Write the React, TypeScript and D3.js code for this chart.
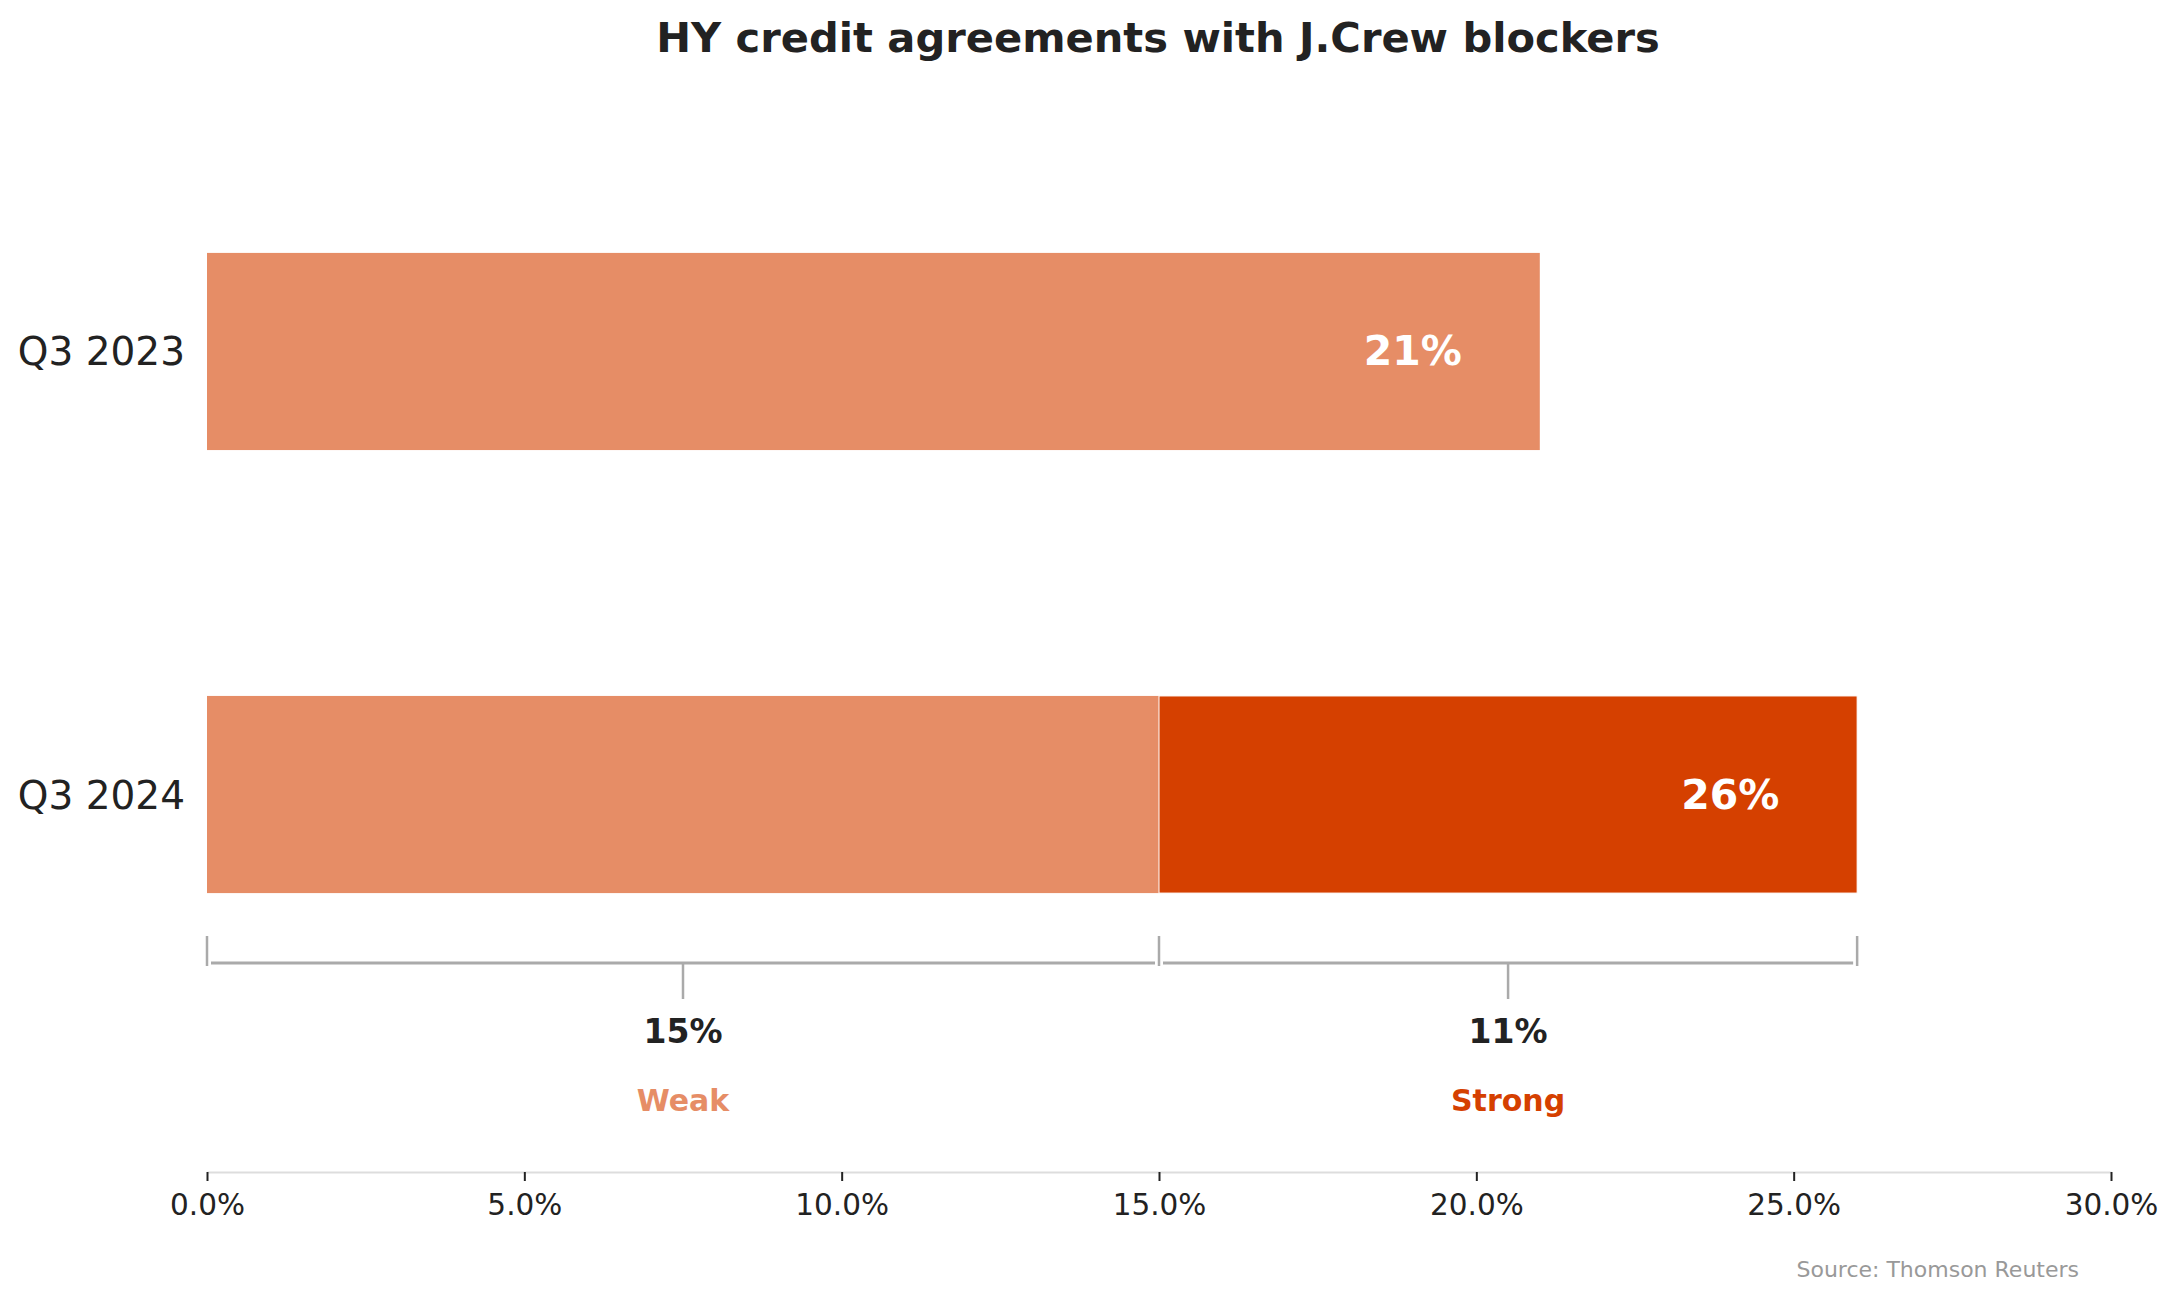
import * as d3 from "d3";
import { useEffect, useRef } from "react";

const categories = ["Q3 2023", "Q3 2024"];
const weakValues = [21, 15];
const strongValues = [0, 11];
const totalLabels = ["21%", "26%"];
const xTicks = [0, 5, 10, 15, 20, 25, 30];
const bracketLabels = ["15%", "11%"];
const bracketNames = ["Weak", "Strong"];

const WEAK = "#e68d66";
const STRONG = "#d54000";
const FONT = "DejaVu Sans, sans-serif";

export default function App() {
  const ref = useRef(null);
  const width = 2179;
  const height = 1301;

  useEffect(() => {
    document.body.style.margin = "0";
    draw();
  });

  function draw() {
    const svg = d3.select(ref.current);
    // clean the slate
    svg.selectAll("*").remove();
    svg.attr("width", width).attr("height", height).style("background", "#fff");

    const x = d3.scaleLinear().domain([0, 30]).range([207, 2111]);
    const y = d3
      .scaleBand()
      .domain(categories)
      .range([120, 1026])
      .paddingInner(0.555)
      .paddingOuter(0.3);

    // title
    svg
      .append("text")
      .attr("x", 1158)
      .attr("y", 52)
      .attr("text-anchor", "middle")
      .attr("font-family", FONT)
      .attr("font-weight", 700)
      .attr("font-size", 41.6)
      .attr("fill", "#222")
      .text("HY credit agreements with J.Crew blockers");

    // weak segments
    svg
      .append("g")
      .selectAll("rect")
      .data(categories)
      .enter()
      .append("rect")
      .attr("x", x(0))
      .attr("y", (d) => y(d))
      .attr("width", (d, i) => x(weakValues[i]) - x(0))
      .attr("height", y.bandwidth())
      .attr("fill", WEAK);

    // strong segments
    svg
      .append("g")
      .selectAll("rect")
      .data(categories.filter((d, i) => strongValues[i] > 0))
      .enter()
      .append("rect")
      .attr("x", (d) => x(weakValues[categories.indexOf(d)]))
      .attr("y", (d) => y(d))
      .attr("width", (d) => {
        const i = categories.indexOf(d);
        return x(weakValues[i] + strongValues[i]) - x(weakValues[i]);
      })
      .attr("height", y.bandwidth())
      .attr("fill", STRONG)
      .attr("stroke", "#fff")
      .attr("stroke-width", 1);

    // category labels
    svg
      .append("g")
      .selectAll("text")
      .data(categories)
      .enter()
      .append("text")
      .attr("x", x(0) - 22)
      .attr("y", (d) => y(d) + y.bandwidth() / 2 + 14)
      .attr("text-anchor", "end")
      .attr("font-family", FONT)
      .attr("font-size", 39)
      .attr("fill", "#222")
      .text((d) => d);

    // totals inside the bars
    svg
      .append("g")
      .selectAll("text")
      .data(categories)
      .enter()
      .append("text")
      .attr("x", (d, i) => x(weakValues[i] + strongValues[i] - 2))
      .attr("y", (d) => y(d) + y.bandwidth() / 2 + 14)
      .attr("text-anchor", "middle")
      .attr("font-family", FONT)
      .attr("font-weight", 700)
      .attr("font-size", 41)
      .attr("fill", "#fff")
      .text((d, i) => totalLabels[i]);

    // brackets under the Q3 2024 bar
    const last = categories.length - 1;
    const segs = [
      [0, weakValues[last]],
      [weakValues[last], weakValues[last] + strongValues[last]],
    ];
    const lineY = 963;
    const br = svg.append("g").attr("stroke", "#aaa").attr("fill", "none");
    segs.forEach((s) => {
      br.append("line")
        .attr("x1", x(s[0]) + 4)
        .attr("x2", x(s[1]) - 4)
        .attr("y1", lineY)
        .attr("y2", lineY)
        .attr("stroke-width", 3);
      br.append("line")
        .attr("x1", x((s[0] + s[1]) / 2))
        .attr("x2", x((s[0] + s[1]) / 2))
        .attr("y1", lineY)
        .attr("y2", lineY + 36)
        .attr("stroke-width", 2.5);
    });
    const ends = [0, weakValues[last], weakValues[last] + strongValues[last]];
    br.selectAll("line.end")
      .data(ends)
      .enter()
      .append("line")
      .attr("class", "end")
      .attr("x1", (d) => x(d))
      .attr("x2", (d) => x(d))
      .attr("y1", 936)
      .attr("y2", 966)
      .attr("stroke-width", 2.5);

    const labels = svg.append("g").attr("font-family", FONT).attr("font-weight", 700);
    segs.forEach((s, i) => {
      labels
        .append("text")
        .attr("x", x((s[0] + s[1]) / 2))
        .attr("y", 1043)
        .attr("text-anchor", "middle")
        .attr("font-size", 33)
        .attr("fill", "#222")
        .text(bracketLabels[i]);
      labels
        .append("text")
        .attr("x", x((s[0] + s[1]) / 2))
        .attr("y", 1111)
        .attr("text-anchor", "middle")
        .attr("font-size", 30)
        .attr("fill", i === 0 ? WEAK : STRONG)
        .text(bracketNames[i]);
    });

    // x axis
    const axis = svg
      .append("g")
      .attr("transform", "translate(0,1172)")
      .call(
        d3
          .axisBottom(x)
          .tickValues(xTicks)
          .tickFormat((d) => d3.format(".1f")(d) + "%")
          .tickSize(9)
          .tickSizeOuter(0)
          .tickPadding(13)
      );
    axis.select(".domain").attr("stroke", "#ddd").attr("stroke-width", 2);
    axis.selectAll(".tick line").attr("stroke", "#222").attr("stroke-width", 2);
    axis
      .selectAll(".tick text")
      .attr("font-family", FONT)
      .attr("font-size", 29.5)
      .attr("fill", "#222");

    // source note
    svg
      .append("text")
      .attr("x", 2079)
      .attr("y", 1277)
      .attr("text-anchor", "end")
      .attr("font-family", FONT)
      .attr("font-size", 22)
      .attr("fill", "#999")
      .text("Source: Thomson Reuters");
  }

  return <svg ref={ref} style={{ display: "block" }}></svg>;
}
